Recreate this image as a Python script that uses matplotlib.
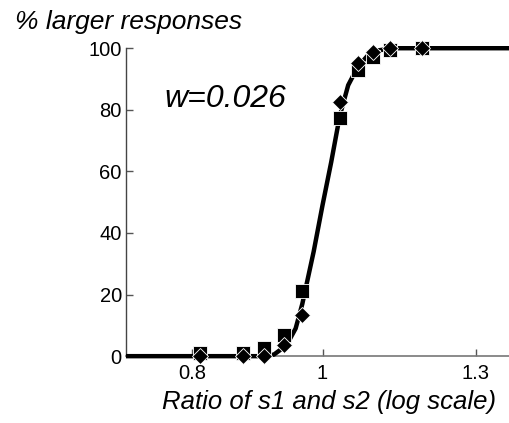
import matplotlib
matplotlib.use("Agg")
import matplotlib.pyplot as plt
from matplotlib.ticker import FixedLocator, FixedFormatter, NullLocator

# ==============================
# DATOS
# ==============================

ratio = [0.811, 0.873, 0.904, 0.936, 0.966, 1.030, 1.0625, 1.091, 1.123, 1.186]
pct_squares = [1.0, 1.0, 2.5, 6.8, 21.0, 77.5, 93.0, 97.0, 99.5, 100.0]
pct_diamonds = [0.0, 0.0, 0.0, 3.6, 13.5, 82.5, 95.2, 98.8, 100.0, 100.0]

# curva ajustada
fit_ratio = [0.714, 0.90, 0.92, 0.94, 0.955, 0.966, 0.985, 1.0, 1.015,
             1.03, 1.045, 1.0625, 1.08, 1.10, 1.13, 1.379]
fit_pct = [0.0, 0.0, 0.5, 3.5, 9.0, 17.0, 34.0, 49.0, 63.0,
           78.0, 88.0, 94.0, 97.5, 99.3, 100.0, 100.0]

xticks = [0.8, 1.0, 1.3]
xtick_labels = ["0.8", "1", "1.3"]
yticks = [0, 20, 40, 60, 80, 100]

# ==============================
# GRAFICO
# ==============================

plt.rcParams["font.family"] = ["Liberation Sans", "DejaVu Sans"]

fig = plt.figure(figsize=(5.1, 4.23), dpi=100)
ax = fig.add_axes([0.247, 0.158, 0.753, 0.728])

ax.plot(fit_ratio, fit_pct, color="black", lw=3.2, solid_capstyle="butt",
        clip_on=False, zorder=3)
ax.plot(ratio, pct_squares, ls="none", marker="s", ms=10, mfc="black",
        mec="white", mew=0.6, clip_on=False, zorder=4)
ax.plot(ratio, pct_diamonds, ls="none", marker="D", ms=8.6, mfc="black",
        mec="white", mew=0.6, clip_on=False, zorder=5)

ax.set_xscale("log")
ax.set_xlim(0.714, 1.379)
ax.set_ylim(0, 100)

ax.xaxis.set_major_locator(FixedLocator(xticks))
ax.xaxis.set_major_formatter(FixedFormatter(xtick_labels))
ax.xaxis.set_minor_locator(NullLocator())
ax.set_yticks(yticks)

for side in ["top", "right"]:
    ax.spines[side].set_visible(False)
ax.spines["left"].set_color("#444444")
ax.spines["bottom"].set_color("#777777")
ax.spines["left"].set_linewidth(1.0)
ax.spines["bottom"].set_linewidth(1.2)

ax.tick_params(direction="in", length=5, width=1, color="#555555",
               labelsize=14.5)
ax.tick_params(axis="x", pad=6)
ax.tick_params(axis="y", pad=3)

ax.text(0.1, 0.835, "w=0.026", transform=ax.transAxes, fontsize=23,
        style="italic", ha="left", va="center")

fig.text(0.029, 0.931, "% larger responses", fontsize=19, style="italic",
         ha="left", va="baseline")
fig.text(0.645, 0.033, "Ratio of s1 and s2 (log scale)", fontsize=18.5,
         style="italic", ha="center", va="baseline")

fig.savefig("out.png", dpi=100)
